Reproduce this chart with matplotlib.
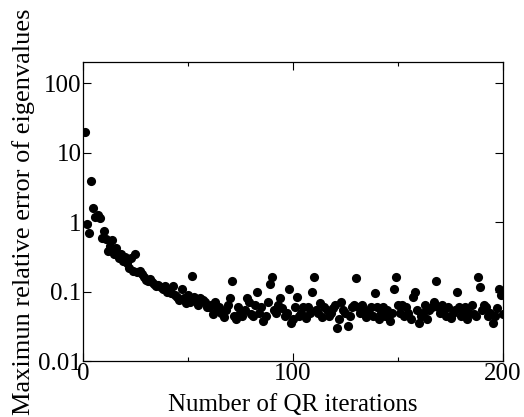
import matplotlib
matplotlib.use('Agg')
import matplotlib.pyplot as plt
from matplotlib.ticker import FixedLocator, NullLocator, FixedFormatter
import numpy as np

plt.rcParams['font.family'] = ['Liberation Serif', 'DejaVu Serif']

# Maximum relative error per QR iteration
iterations = np.arange(1, 201)
max_rel_error = [
    20, 0.95, 0.7, 3.9, 1.6, 1.2, 1.25, 1.15, 0.6, 0.75,
    0.58, 0.39, 0.45, 0.55, 0.35, 0.42, 0.3, 0.35, 0.28, 0.31,
    0.26, 0.22, 0.3, 0.2, 0.35, 0.19, 0.2, 0.18, 0.16, 0.145,
    0.14, 0.15, 0.136, 0.13, 0.12, 0.125, 0.115, 0.11, 0.12, 0.1,
    0.105, 0.095, 0.12, 0.09, 0.085, 0.075, 0.11, 0.08, 0.068, 0.09,
    0.07, 0.17, 0.085, 0.075, 0.065, 0.08, 0.075, 0.07, 0.06, 0.06,
    0.065, 0.048, 0.07, 0.055, 0.06, 0.05, 0.043, 0.055, 0.065, 0.08,
    0.14, 0.045, 0.04, 0.06, 0.05, 0.045, 0.055, 0.08, 0.07, 0.048,
    0.045, 0.065, 0.1, 0.05, 0.06, 0.038, 0.045, 0.07, 0.13, 0.16,
    0.055, 0.05, 0.065, 0.08, 0.058, 0.045, 0.05, 0.11, 0.035, 0.04,
    0.06, 0.085, 0.045, 0.05, 0.06, 0.042, 0.06, 0.05, 0.1, 0.16,
    0.055, 0.05, 0.068, 0.043, 0.06, 0.055, 0.045, 0.05, 0.058, 0.065,
    0.03, 0.04, 0.07, 0.055, 0.05, 0.032, 0.045, 0.06, 0.065, 0.155,
    0.06, 0.05, 0.065, 0.055, 0.043, 0.05, 0.06, 0.045, 0.095, 0.06,
    0.04, 0.05, 0.06, 0.045, 0.055, 0.038, 0.05, 0.11, 0.16, 0.065,
    0.05, 0.065, 0.045, 0.06, 0.05, 0.04, 0.085, 0.1, 0.055, 0.035,
    0.045, 0.05, 0.065, 0.04, 0.055, 0.06, 0.07, 0.14, 0.06, 0.05,
    0.065, 0.055, 0.045, 0.06, 0.042, 0.05, 0.055, 0.1, 0.06, 0.045,
    0.053, 0.06, 0.04, 0.05, 0.065, 0.048, 0.045, 0.16, 0.115, 0.055,
    0.065, 0.06, 0.045, 0.05, 0.035, 0.045, 0.058, 0.11, 0.09, 0.048,
]

y_ticks = [0.01, 0.1, 1, 10, 100]
y_tick_labels = ['0.01', '0.1', '1', '10', '100']
x_ticks = [0, 100, 200]
x_minor = [50, 150]

fig = plt.figure(figsize=(5.24, 4.17), dpi=100)
ax = fig.add_axes([0.158, 0.134, 0.802, 0.717])

ax.plot(iterations, max_rel_error, 'o', color='black', markersize=6.6,
        markeredgewidth=0)

ax.set_yscale('log')
ax.set_xlim(0, 200)
ax.set_ylim(0.01, 200)

ax.yaxis.set_major_locator(FixedLocator(y_ticks))
ax.yaxis.set_major_formatter(FixedFormatter(y_tick_labels))
ax.yaxis.set_minor_locator(NullLocator())
ax.xaxis.set_major_locator(FixedLocator(x_ticks))
ax.xaxis.set_minor_locator(FixedLocator(x_minor))

ax.tick_params(which='both', direction='in', top=True, right=True,
               labelsize=18, pad=1)
ax.tick_params(which='major', length=6, width=0.8)
ax.tick_params(which='minor', length=3, width=0.8)

for s in ax.spines.values():
    s.set_linewidth(0.9)

ax.set_xlabel('Number of QR iterations', fontsize=18, labelpad=7)
ax.set_ylabel('Maximun relative error of eigenvalues', fontsize=19, labelpad=2)

fig.savefig('out.png', dpi=100)
